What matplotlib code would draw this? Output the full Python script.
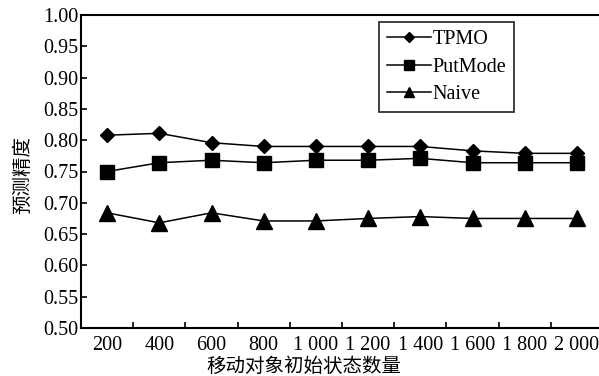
import matplotlib
matplotlib.use('Agg')
import matplotlib.pyplot as plt
import numpy as np

# 数据
x_labels = ['200', '400', '600', '800', '1 000', '1 200', '1 400', '1 600', '1 800', '2 000']
tpmo = [0.808, 0.811, 0.796, 0.790, 0.790, 0.790, 0.790, 0.783, 0.779, 0.779]
putmode = [0.750, 0.764, 0.768, 0.764, 0.768, 0.768, 0.771, 0.764, 0.764, 0.764]
naive = [0.684, 0.668, 0.684, 0.671, 0.671, 0.675, 0.678, 0.675, 0.675, 0.675]
y_ticks = [0.50, 0.55, 0.60, 0.65, 0.70, 0.75, 0.80, 0.85, 0.90, 0.95, 1.00]

plt.rcParams['font.family'] = ['Liberation Serif', 'Noto Sans CJK SC']
cjk = 'Noto Sans CJK SC'

fig = plt.figure(figsize=(5.99, 3.76), dpi=100)
ax = fig.add_axes([81 / 599, 48 / 376, 522 / 599, 313 / 376])

x = np.arange(len(x_labels))
ax.plot(x, tpmo, color='black', lw=1.1, marker='D', ms=7, label='TPMO')
ax.plot(x, putmode, color='black', lw=1.1, marker='s', ms=10.5, label='PutMode')
ax.plot(x, naive, color='black', lw=1.1, marker='^', ms=11, label='Naive')

ax.set_xlim(-0.5, len(x_labels) - 0.5)
ax.set_ylim(0.5, 1.0)
ax.set_yticks(y_ticks)
ax.set_yticklabels([f'{v:.2f}' for v in y_ticks])
ax.set_xticks(x)
ax.set_xticklabels(x_labels)
ax.set_xticks(x[:-1] + 0.5, minor=True)

ax.tick_params(axis='x', which='major', length=0, pad=6, labelsize=14.5)
ax.tick_params(axis='x', which='minor', direction='in', length=4, width=1.2)
ax.tick_params(axis='y', direction='in', length=4, width=1.2, pad=2, labelsize=14.5)

for s in ax.spines.values():
    s.set_linewidth(1.5)

ax.set_xlabel('移动对象初始状态数量', family=cjk, fontsize=14)
ax.xaxis.set_label_coords((304 - 81) / 522, -0.088)
ax.set_ylabel('预测精度', family=cjk, fontsize=14, va='center')
ax.yaxis.set_label_coords(-(81 - 23) / 522, 0.49)

leg = ax.legend(loc='upper left', bbox_to_anchor=(379 / 599, 1 - 22 / 376),
                bbox_transform=fig.transFigure, borderaxespad=0, fancybox=False,
                edgecolor='black', fontsize=14.5, handlelength=2.2, handletextpad=0.05,
                labelspacing=0.42, markerscale=0.7, borderpad=0.4)
leg.get_frame().set_linewidth(1.3)

fig.savefig('out.png', dpi=100)
